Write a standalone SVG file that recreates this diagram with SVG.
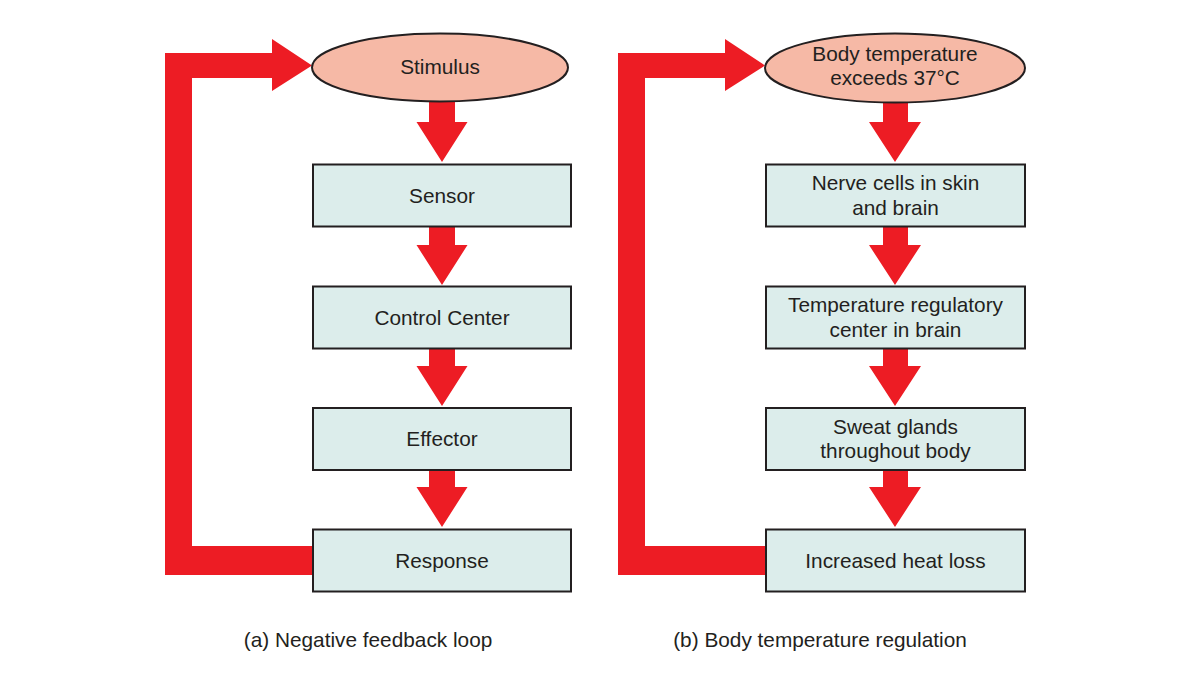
<svg xmlns="http://www.w3.org/2000/svg" width="1200" height="675" viewBox="0 0 1200 675">
  <style>
    .arrow { fill: #ED1C24; stroke: none; }
    .box { fill: #DCEDEB; stroke: #231F20; stroke-width: 2; }
    .oval { fill: #F6B9A6; stroke: #231F20; stroke-width: 2; }
    text { font-family: "Liberation Sans", Arial, Helvetica, sans-serif; font-size: 20.8px; fill: #231F20; text-anchor: middle; }
  </style>
  <rect width="1200" height="675" fill="#FFFFFF"/>
  <g id="connectors">
    <!-- left panel -->
    <path class="arrow" d="M313,546 H192 V78 H272 V91 L312,65.5 L272,39 V53 H165 V575 H313 Z"/>
    <path class="arrow" d="M429,98 H455 V122 H467.5 L442,162 L416.5,122 H429 Z"/>
    <path class="arrow" d="M429,226 H455 V245 H467.5 L442,285 L416.5,245 H429 Z"/>
    <path class="arrow" d="M429,348 H455 V366 H467.5 L442,406 L416.5,366 H429 Z"/>
    <path class="arrow" d="M429,469 H455 V487 H467.5 L442,527 L416.5,487 H429 Z"/>
    <!-- right panel -->
    <path class="arrow" d="M766,546 H645 V78 H725 V91 L765,65.5 L725,39 V53 H618 V575 H766 Z"/>
    <path class="arrow" d="M883,98 H908 V122 H921 L895,162 L869,122 H883 Z"/>
    <path class="arrow" d="M883,226 H908 V245 H921 L895,285 L869,245 H883 Z"/>
    <path class="arrow" d="M883,348 H908 V366 H921 L895,406 L869,366 H883 Z"/>
    <path class="arrow" d="M883,469 H908 V487 H921 L895,527 L869,487 H883 Z"/>
  </g>
  <g id="stimulus">
    <ellipse class="oval" cx="440" cy="67.5" rx="128" ry="34"/>
    <text x="440" y="74">Stimulus</text>
  </g>
  <g id="sensor">
    <rect class="box" x="313" y="164.5" width="258" height="62"/>
    <text x="442" y="202.5">Sensor</text>
  </g>
  <g id="control-center">
    <rect class="box" x="313" y="286.5" width="258" height="62"/>
    <text x="442" y="324.5">Control Center</text>
  </g>
  <g id="effector">
    <rect class="box" x="313" y="408" width="258" height="62"/>
    <text x="442" y="446">Effector</text>
  </g>
  <g id="response">
    <rect class="box" x="313" y="529.5" width="258" height="62"/>
    <text x="442" y="567.5">Response</text>
  </g>
  <g id="body-temp">
    <ellipse class="oval" cx="895" cy="68" rx="130" ry="34.5"/>
    <text x="895" y="60.5">Body temperature</text>
    <text x="895" y="85">exceeds 37°C</text>
  </g>
  <g id="nerve-cells">
    <rect class="box" x="766" y="164.5" width="259" height="62"/>
    <text x="895.5" y="190">Nerve cells in skin</text>
    <text x="895.5" y="214.5">and brain</text>
  </g>
  <g id="temp-center">
    <rect class="box" x="766" y="286.5" width="259" height="62"/>
    <text x="895.5" y="312">Temperature regulatory</text>
    <text x="895.5" y="336.5">center in brain</text>
  </g>
  <g id="sweat-glands">
    <rect class="box" x="766" y="408" width="259" height="62"/>
    <text x="895.5" y="433.5">Sweat glands</text>
    <text x="895.5" y="458">throughout body</text>
  </g>
  <g id="heat-loss">
    <rect class="box" x="766" y="529.5" width="259" height="62"/>
    <text x="895.5" y="567.5">Increased heat loss</text>
  </g>
  <g id="captions">
    <text x="368" y="647">(a) Negative feedback loop</text>
    <text x="820" y="647">(b) Body temperature regulation</text>
  </g>
</svg>
